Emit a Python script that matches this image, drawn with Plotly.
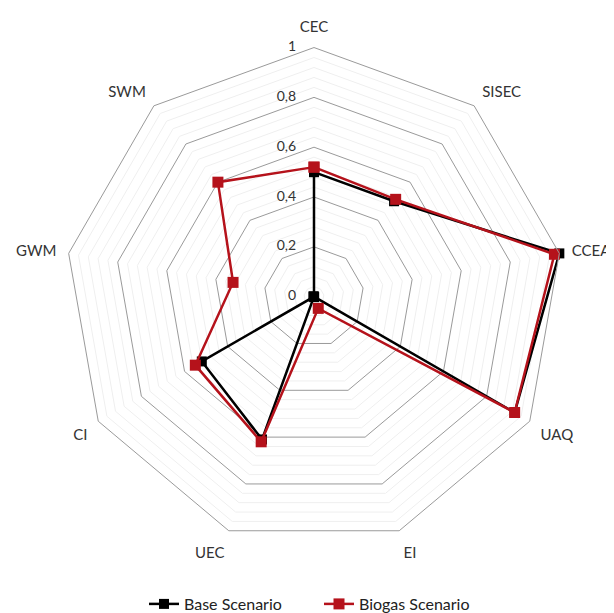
import plotly.graph_objects as go
import numpy as np

categories = ["CEC", "SISEC", "CCEA", "UAQ", "EI", "UEC", "CI", "GWM", "SWM"]
base_values = [0.50, 0.50, 1.00, 0.93, 0.0, 0.61, 0.52, 0.0, 0.0]
biogas_values = [0.52, 0.51, 0.98, 0.93, 0.05, 0.62, 0.55, 0.33, 0.60]
tick_vals = [0, 0.2, 0.4, 0.6, 0.8, 1.0]
tick_text = ["0", "0,2", "0,4", "0,6", "0,8", "1"]
minor_levels = [round(v, 2) for v in np.arange(0.04, 1.0, 0.04) if abs(v / 0.2 - round(v / 0.2)) > 1e-6]

W, H = 614, 613
DX0, DX1, DY0, DY1 = 54, 558, 40, 544  # polar domain in pixels (left, right, top, bottom)
PAD = "\u00a0" * 5
EPS = 0.002  # plotly hides points lying exactly on the radial minimum; nudge for display only

fig = go.Figure()

# faint minor grid polygons
for lv in minor_levels:
    fig.add_trace(go.Scatterpolar(
        r=[lv] * (len(categories) + 1),
        theta=categories + [categories[0]],
        mode="lines", line=dict(color="#efefef", width=1),
        hoverinfo="skip", showlegend=False, cliponaxis=False))

# radial tick labels along the first axis, left of it
fig.add_trace(go.Scatterpolar(
    r=[max(v, EPS) for v in tick_vals], theta=[categories[0]] * len(tick_vals),
    mode="text", text=[t + PAD for t in tick_text],
    textposition="middle left", textfont=dict(size=14, color="#333333"),
    hoverinfo="skip", showlegend=False, cliponaxis=False))

def closed(v):
    return v + [v[0]]

series = [("Base Scenario", base_values, "#000000", 10),
          ("Biogas Scenario", biogas_values, "#B5121B", 11)]

for name, vals, col, ms in series:
    fig.add_trace(go.Scatterpolar(
        r=closed(vals), theta=closed(categories), name=name,
        mode="lines+markers", line=dict(color=col, width=2.5),
        marker=dict(symbol="square", size=ms, color=col), cliponaxis=False))
    # zero-valued points (at the centre) so their markers stay visible
    zi = [i for i, v in enumerate(vals) if v == 0]
    if zi:
        fig.add_trace(go.Scatterpolar(
            r=[max(vals[i], EPS) for i in zi], theta=[categories[i] for i in zi],
            mode="markers", marker=dict(symbol="square", size=ms, color=col),
            hoverinfo="skip", showlegend=False, cliponaxis=False))

fig.update_layout(
    width=W, height=H,
    margin=dict(l=0, r=0, t=0, b=0),
    paper_bgcolor="white", plot_bgcolor="white",
    font=dict(family="Lato, Open Sans, sans-serif", color="#333333", size=14),
    polar=dict(
        domain=dict(x=[DX0 / W, DX1 / W], y=[(H - DY1) / H, (H - DY0) / H]),
        bgcolor="white",
        gridshape="linear",
        radialaxis=dict(range=[0, 1], tickvals=tick_vals, showticklabels=False,
                        angle=90, showline=False, ticks="",
                        gridcolor="#9a9a9a", gridwidth=1),
        angularaxis=dict(direction="clockwise", rotation=90, showgrid=False,
                         showline=True, linecolor="#9a9a9a", linewidth=1,
                         ticks="outside", ticklen=9, tickcolor="rgba(0,0,0,0)",
                         tickfont=dict(size=15, color="#333333")),
    ),
    legend=dict(orientation="h", x=311 / W, xanchor="center", y=(H - 603) / H,
                yanchor="middle", font=dict(size=16, color="#222222"), entrywidth=130),
)

fig.write_html("out.html")
